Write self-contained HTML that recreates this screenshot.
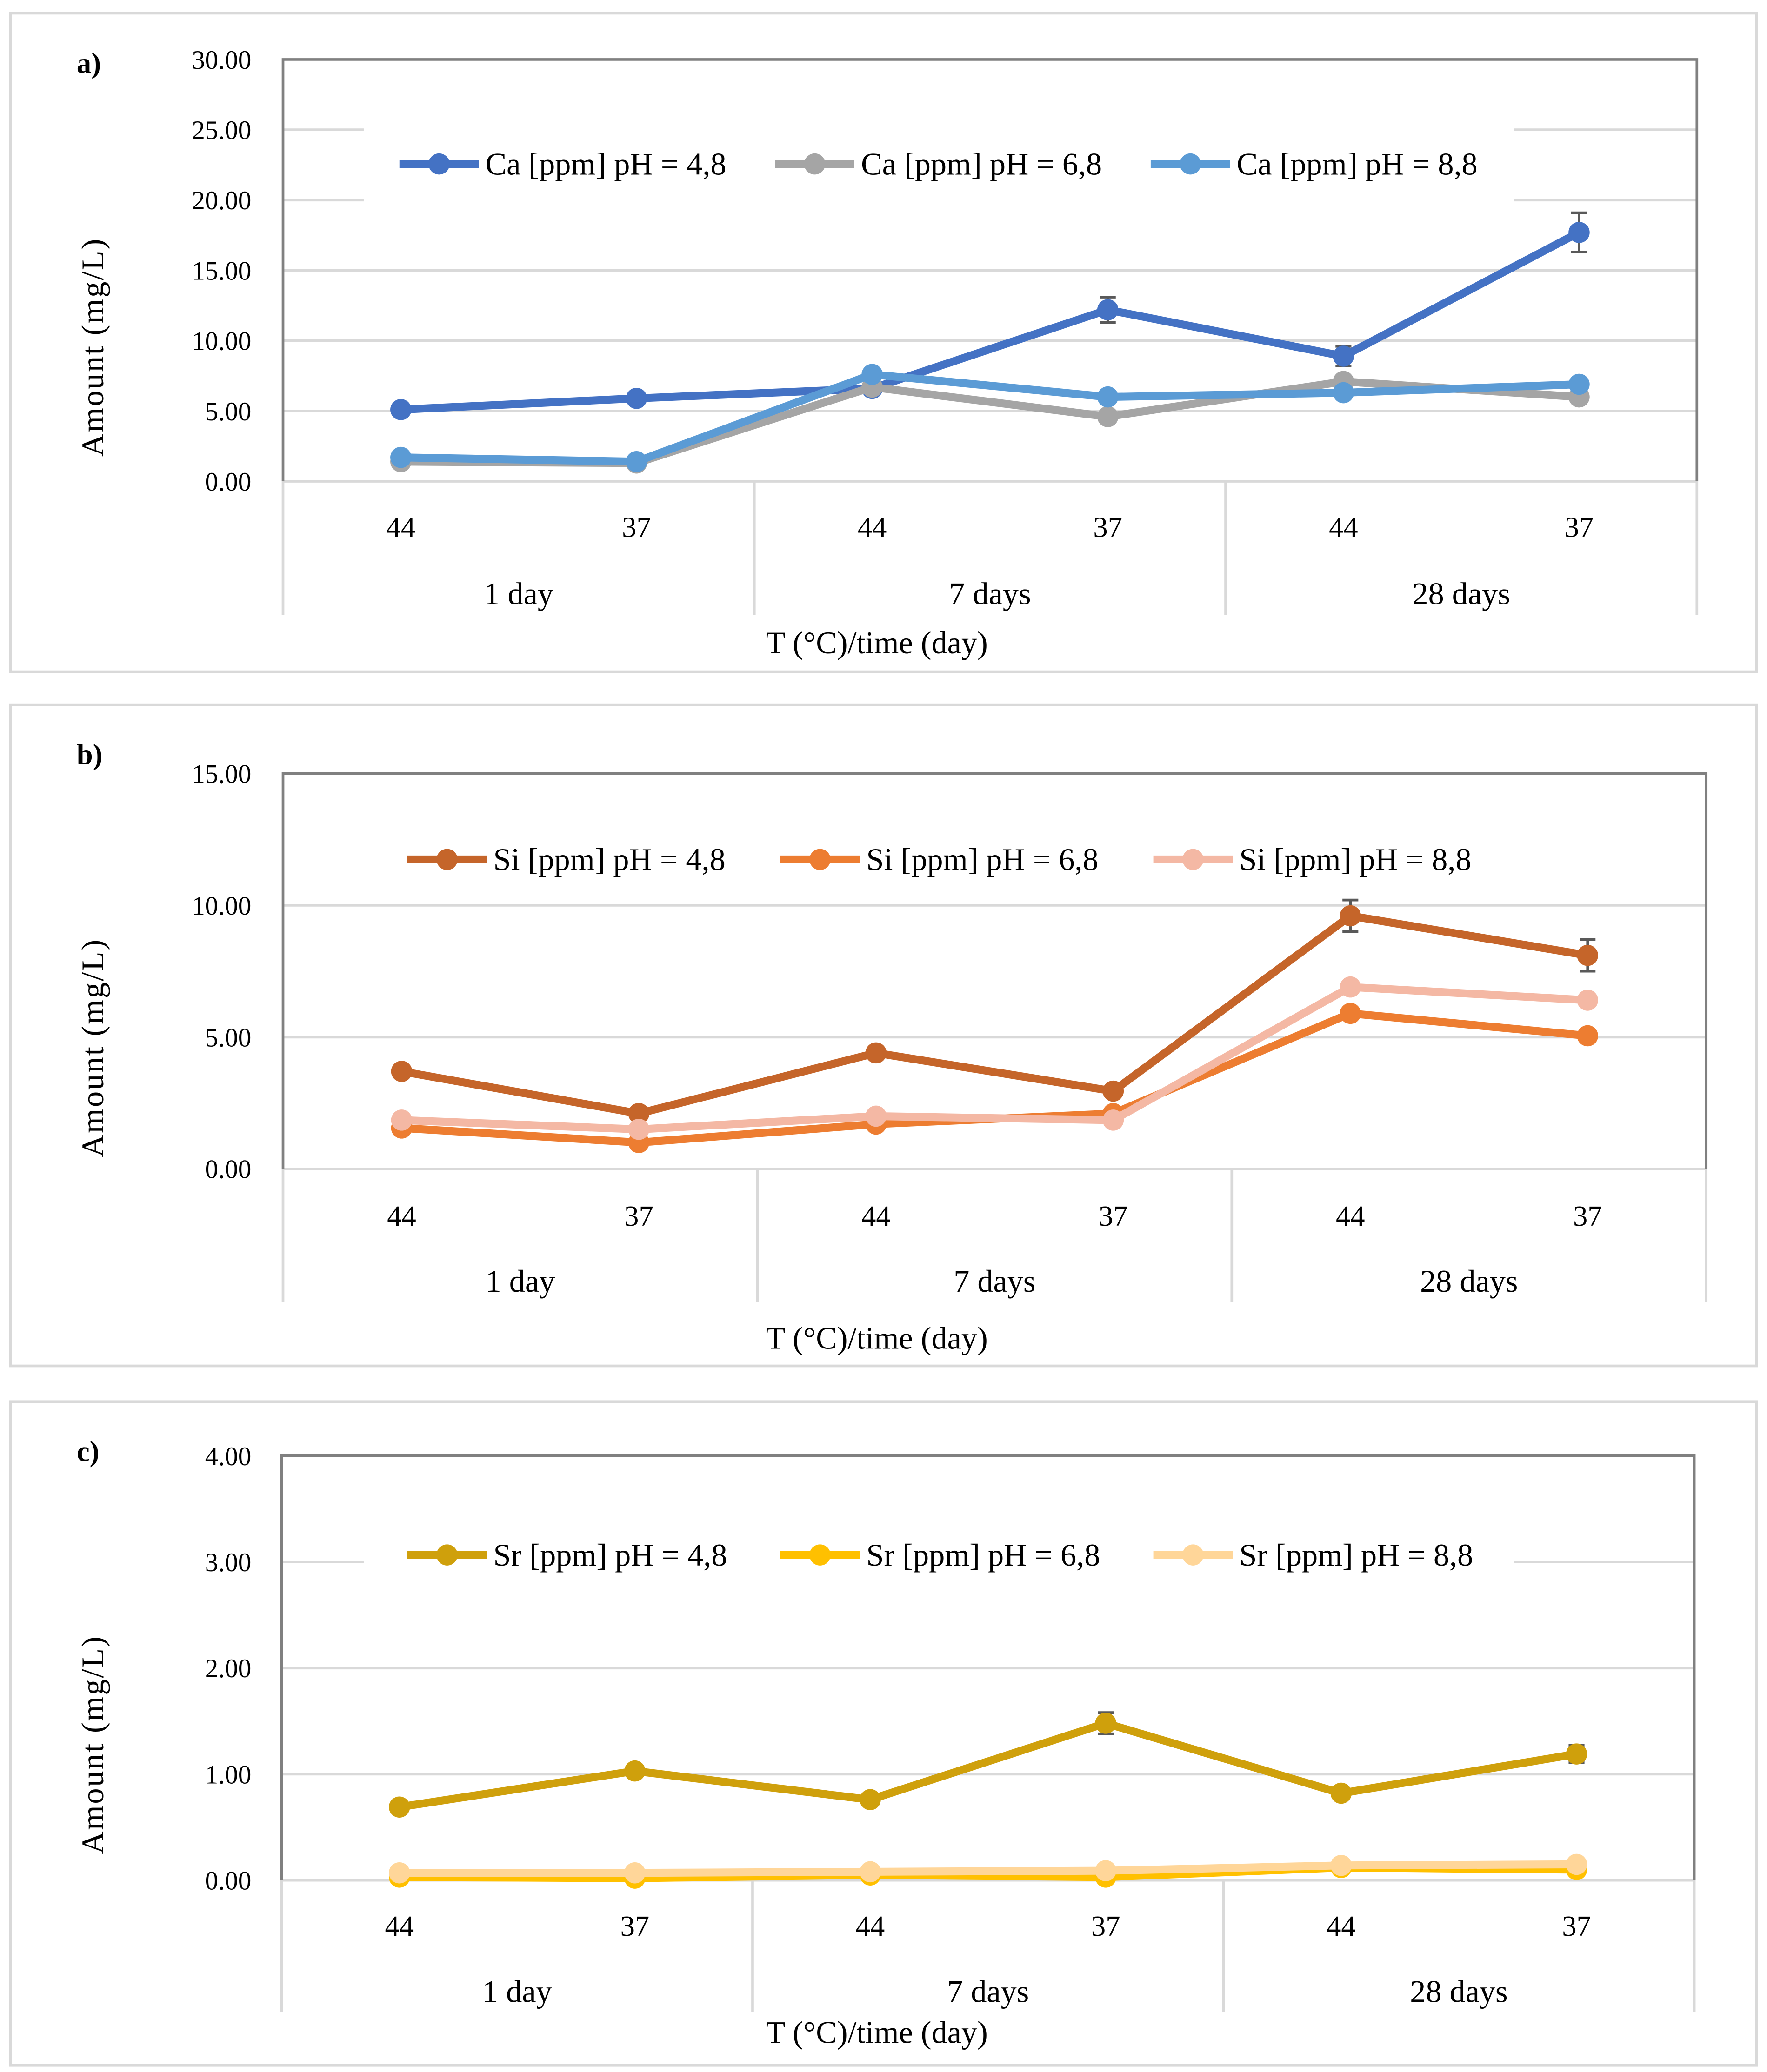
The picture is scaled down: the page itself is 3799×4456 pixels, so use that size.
<!DOCTYPE html>
<html><head><meta charset="utf-8"><style>
html,body{margin:0;padding:0;background:#fff;}
svg{display:block;}
text{font-family:"Liberation Serif",serif;fill:#000;}
</style></head><body>
<svg id="fig" width="3799" height="4456" viewBox="0 0 1336 1567" preserveAspectRatio="none" xmlns="http://www.w3.org/2000/svg"></svg>
<script>
const categories = ["44","37","44","37","44","37"];
const groups = ["1 day","7 days","28 days"];
const caTicks = ["0.00","5.00","10.00","15.00","20.00","25.00","30.00"];
const siTicks = ["0.00","5.00","10.00","15.00"];
const srTicks = ["0.00","1.00","2.00","3.00","4.00"];
const ca48 = [5.1, 5.9, 6.6, 12.2, 8.9, 17.7];
const ca68 = [1.4, 1.3, 6.7, 4.6, 7.1, 6.0];
const ca88 = [1.7, 1.4, 7.6, 6.0, 6.3, 6.9];
const ca48Err = [0.1, 0.1, 0.3, 0.9, 0.7, 1.4];
const si48 = [3.7, 2.1, 4.4, 2.95, 9.6, 8.1];
const si68 = [1.55, 1.0, 1.7, 2.1, 5.9, 5.05];
const si88 = [1.85, 1.5, 2.0, 1.85, 6.9, 6.4];
const si48Err = [0.1, 0.1, 0.2, 0.1, 0.6, 0.6];
const sr48 = [0.69, 1.03, 0.76, 1.48, 0.82, 1.19];
const sr68 = [0.03, 0.02, 0.05, 0.03, 0.12, 0.10];
const sr88 = [0.07, 0.07, 0.08, 0.09, 0.14, 0.15];
const sr48Err = [0.02, 0.05, 0.02, 0.1, 0.03, 0.08];

const NS="http://www.w3.org/2000/svg";
const svg=document.getElementById('fig');
function mk(tag,attrs,parent){const e=document.createElementNS(NS,tag);for(const k in attrs)e.setAttribute(k,attrs[k]);(parent||svg).appendChild(e);return e;}
function txt(s,x,y,size,anchor,parent,extra){const t=mk('text',Object.assign({x:x,y:y,'font-size':size,'text-anchor':anchor||'middle'},extra||{}),parent);t.textContent=s;return t;}

function panel(cfg){
  const g=mk('g',{});
  
  
  const fr=mk('rect',{x:cfg.fx,y:cfg.fy,width:1320,height:cfg.fh,fill:'none',stroke:'#d9d9d9','stroke-width':2},g);
  
  
  const L=cfg.left,R=cfg.right,T=cfg.top,B=cfg.bottom,max=cfg.max;
  const y=v=>B-(v/max)*(B-T);
  const cw=(R-L)/6;
  const x=i=>L+cw*(i+0.5);
  cfg.ticks.forEach((lab,i)=>{
    const v=parseFloat(lab);const yy=y(v);
    if(v>0&&v<max){
      if(cfg.legendGap && yy<cfg.legY+40 && yy>cfg.legY-40){
        mk('line',{x1:L,x2:cfg.legX1,y1:yy,y2:yy,stroke:'#d9d9d9','stroke-width':2},g);
        mk('line',{x1:cfg.legX2,x2:R,y1:yy,y2:yy,stroke:'#d9d9d9','stroke-width':2},g);
      } else {
        const gl=mk('line',{x1:L,x2:R,y1:yy,y2:yy,stroke:'#d9d9d9','stroke-width':2},g);
        
        
      }
    }
    const t=txt(lab,190,yy+7,20,'end',g);
    
    
  });
  mk('line',{x1:L,x2:R,y1:B,y2:B,stroke:'#d9d9d9','stroke-width':2},g);
  mk('polyline',{points:`${L},${B} ${L},${T} ${R},${T} ${R},${B}`,fill:'none',stroke:'#808080','stroke-width':2},g);
  for(let k=0;k<=3;k++){const xx=L+k*2*cw;mk('line',{x1:xx,x2:xx,y1:B,y2:cfg.sepEnd,stroke:'#d9d9d9','stroke-width':2},g);}
  categories.forEach((c,i)=>{const t=txt(c,x(i),cfg.tickY,22,'middle',g);});
  groups.forEach((c,i)=>{const t=txt(c,L+cw*(2*i+1),cfg.groupY,24,'middle',g);});
  const xt=txt('T (°C)/time (day)',663,cfg.xtitleY,24,'middle',g);
  
  
  const yc=(T+B)/2+58;
  const yt=txt('Amount (mg/L)',0,0,24,'middle',g,{transform:`translate(78,${yc}) rotate(-90)`,'letter-spacing':'1'});
  
  
  const pl=txt(cfg.label,58,cfg.fy+45,22,'start',g,{'font-weight':'bold'});
  
  
  cfg.series.forEach((s,si)=>{
    const sg=mk('g',{},g);
    
    
    const pts=s.data.map((v,i)=>x(i)+','+y(v)).join(' ');
    const ln=mk('polyline',{points:pts,fill:'none',stroke:s.color,'stroke-width':6,'stroke-linejoin':'round'},sg);
    
    
    s.data.forEach((v,i)=>{
      if(s.err){const e=s.err[i];const x0=x(i);
        mk('line',{x1:x0,x2:x0,y1:y(v+e),y2:y(v-e),stroke:'#595959','stroke-width':2},sg);
        mk('line',{x1:x0-6,x2:x0+6,y1:y(v+e),y2:y(v+e),stroke:'#595959','stroke-width':2},sg);
        mk('line',{x1:x0-6,x2:x0+6,y1:y(v-e),y2:y(v-e),stroke:'#595959','stroke-width':2},sg);}
      const c=mk('circle',{cx:x(i),cy:y(v),r:8,fill:s.color},sg);
      
      
    });
    const lx=cfg.legStarts[si];
    const le=mk('g',{},g);
    
    
    mk('line',{x1:lx,x2:lx+60,y1:cfg.legY,y2:cfg.legY,stroke:s.color,'stroke-width':6},le);
    mk('circle',{cx:lx+30,cy:cfg.legY,r:8,fill:s.color},le);
    txt(s.label,lx+65,cfg.legY+8,24,'start',le);
  });
}

panel({name:'calcium',label:'a)',fx:8,fy:10,fh:498,left:214,right:1283,top:45,bottom:364,max:30,ticks:caTicks,
  sepEnd:465,tickY:406,groupY:457,xtitleY:494,legY:124,legendGap:true,legX1:275,legX2:1145,legStarts:[302,586,870],
  series:[{id:'ca-ph48',label:'Ca [ppm] pH = 4,8',color:'#4472C4',data:ca48,err:ca48Err},
          {id:'ca-ph68',label:'Ca [ppm] pH = 6,8',color:'#A5A5A5',data:ca68},
          {id:'ca-ph88',label:'Ca [ppm] pH = 8,8',color:'#5B9BD5',data:ca88}]});
panel({name:'silicon',label:'b)',fx:8,fy:533,fh:500,left:214,right:1290,top:585,bottom:884,max:15,ticks:siTicks,
  sepEnd:985,tickY:927,groupY:977,xtitleY:1020,legY:650,legendGap:false,legStarts:[308,590,872],
  series:[{id:'si-ph48',label:'Si [ppm] pH = 4,8',color:'#C5652A',data:si48,err:si48Err},
          {id:'si-ph68',label:'Si [ppm] pH = 6,8',color:'#ED7D31',data:si68},
          {id:'si-ph88',label:'Si [ppm] pH = 8,8',color:'#F4B8A4',data:si88}]});
panel({name:'strontium',label:'c)',fx:8,fy:1060,fh:502,left:213,right:1281,top:1101,bottom:1422,max:4,ticks:srTicks,
  sepEnd:1522,tickY:1464,groupY:1514,xtitleY:1545,legY:1176,legendGap:true,legX1:275,legX2:1145,legStarts:[308,590,872],
  series:[{id:'sr-ph48',label:'Sr [ppm] pH = 4,8',color:'#CFA00C',data:sr48,err:sr48Err},
          {id:'sr-ph68',label:'Sr [ppm] pH = 6,8',color:'#FFC000',data:sr68},
          {id:'sr-ph88',label:'Sr [ppm] pH = 8,8',color:'#FFD699',data:sr88}]});
</script>
</body></html>
